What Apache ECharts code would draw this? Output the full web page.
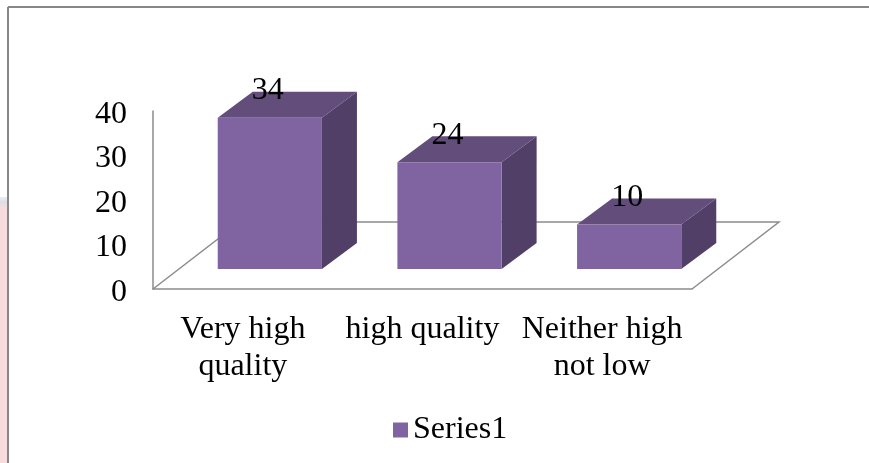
<!DOCTYPE html>
<html>
<head>
<meta charset="utf-8">
<script src="https://cdn.jsdelivr.net/npm/echarts@6/dist/echarts.min.js"></script>
<style>
  html, body { margin: 0; padding: 0; background: #ffffff; }
  #chart { width: 869px; height: 463px; }
</style>
</head>
<body>
<div id="chart"></div>
<script>
// Survey answers and their counts
const categories = ['Very high\nquality', 'high quality', 'Neither high\nnot low'];
const values = [34, 24, 10];
const seriesName = 'Series1';

// Value axis range
const yMin = 0;
const yMax = 40;
const yStep = 10;

// Shading of the three visible faces of each box
const FRONT_COLOR = '#8064A2';
const TOP_COLOR = '#624D7B';
const SIDE_COLOR = '#513F68';
const LINE_COLOR = '#8C8C8C';
const FONT = '"Liberation Serif", "Times New Roman", serif';
const FONT_SIZE = 32;

// Oblique projection offsets (px): floor depth, bar front plane shift, bar depth
const FLOOR_DEPTH = [87, -67];
const BAR_SHIFT = [27, -20];
const BAR_DEPTH = [35, -26];

const chart = echarts.init(document.getElementById('chart'), null, { renderer: 'canvas' });

function renderFloor(params, api) {
  const cs = params.coordSys;
  const fl = [cs.x, cs.y + cs.height];
  const fr = [cs.x + cs.width, cs.y + cs.height];
  const bl = [fl[0] + FLOOR_DEPTH[0], fl[1] + FLOOR_DEPTH[1]];
  const br = [fr[0] + FLOOR_DEPTH[0], fr[1] + FLOOR_DEPTH[1]];
  return {
    type: 'polyline',
    shape: { points: [fl, bl, br, fr] },
    style: { stroke: LINE_COLOR, lineWidth: 1.5, fill: null }
  };
}

function renderBox(params, api) {
  const idx = api.value(0);
  const v = api.value(1);
  const base = api.coord([idx, 0]);
  const top = api.coord([idx, v]);
  const band = api.size([1, 0])[0];
  const w = band * 0.58;
  const cx = base[0] + BAR_SHIFT[0];
  const x0 = cx - w / 2;
  const x1 = cx + w / 2;
  const by = base[1] + BAR_SHIFT[1];
  const ty = top[1] + BAR_SHIFT[1];
  const dx = BAR_DEPTH[0];
  const dy = BAR_DEPTH[1];
  return {
    type: 'group',
    children: [
      {
        type: 'polygon',
        shape: { points: [[x1, by], [x1, ty], [x1 + dx, ty + dy], [x1 + dx, by + dy]] },
        style: { fill: SIDE_COLOR }
      },
      {
        type: 'polygon',
        shape: { points: [[x0, ty], [x1, ty], [x1 + dx, ty + dy], [x0 + dx, ty + dy]] },
        style: { fill: TOP_COLOR }
      },
      {
        type: 'rect',
        shape: { x: x0, y: ty, width: w, height: by - ty },
        style: { fill: FRONT_COLOR }
      },
      {
        type: 'text',
        style: {
          x: cx - 2,
          y: ty - 27,
          text: String(v),
          font: FONT_SIZE + 'px ' + FONT,
          fill: '#000000',
          align: 'center',
          verticalAlign: 'middle'
        },
        z2: 10
      }
    ]
  };
}

chart.setOption({
  backgroundColor: '#ffffff',
  animation: false,
  graphic: [
    { type: 'rect', shape: { x: 0, y: 206, width: 8, height: 257 }, style: { fill: '#F8DCDD' } },
    {
      type: 'rect', shape: { x: 0, y: 197, width: 8, height: 10 },
      style: {
        fill: new echarts.graphic.LinearGradient(0, 0, 0, 1, [
          { offset: 0, color: '#ECEEF3' },
          { offset: 0.5, color: '#DADEE8' },
          { offset: 1, color: '#F3DDE0' }
        ])
      }
    },
    { type: 'line', shape: { x1: 8, y1: 7, x2: 8, y2: 463 }, style: { stroke: '#878787', lineWidth: 2 } },
    { type: 'line', shape: { x1: 8, y1: 7, x2: 869, y2: 7 }, style: { stroke: '#878787', lineWidth: 2 } }
  ],
  legend: {
    data: [seriesName],
    top: 409,
    left: 388,
    icon: 'rect',
    itemWidth: 15,
    itemHeight: 15,
    itemGap: 6,
    textStyle: { fontFamily: FONT, fontSize: FONT_SIZE, color: '#000000' }
  },
  grid: { left: 153, right: 177, top: 111, bottom: 174, containLabel: false },
  xAxis: {
    type: 'category',
    data: categories,
    axisLine: { show: true, lineStyle: { color: LINE_COLOR, width: 1.5 } },
    axisTick: { show: false },
    axisLabel: {
      interval: 0,
      margin: 22,
      fontFamily: FONT,
      fontSize: FONT_SIZE,
      lineHeight: 37,
      color: '#000000'
    },
    splitLine: { show: false }
  },
  yAxis: {
    type: 'value',
    min: yMin,
    max: yMax,
    interval: yStep,
    axisLine: { show: true, lineStyle: { color: LINE_COLOR, width: 1.5 } },
    axisTick: { show: false },
    axisLabel: {
      margin: 26,
      color: '#000000',
      formatter: '{t|{value}}',
      rich: {
        t: {
          fontFamily: FONT,
          fontSize: FONT_SIZE,
          color: '#000000',
          padding: [7, 0, 0, 0]
        }
      }
    },
    splitLine: { show: false }
  },
  series: [
    {
      type: 'custom',
      name: 'floor',
      silent: true,
      renderItem: renderFloor,
      data: [[0, 0]],
      z: 1
    },
    {
      type: 'custom',
      name: seriesName,
      itemStyle: { color: FRONT_COLOR },
      renderItem: renderBox,
      encode: { x: 0, y: 1 },
      data: values.map((v, i) => [i, v]),
      z: 2
    }
  ]
});
</script>
</body>
</html>
